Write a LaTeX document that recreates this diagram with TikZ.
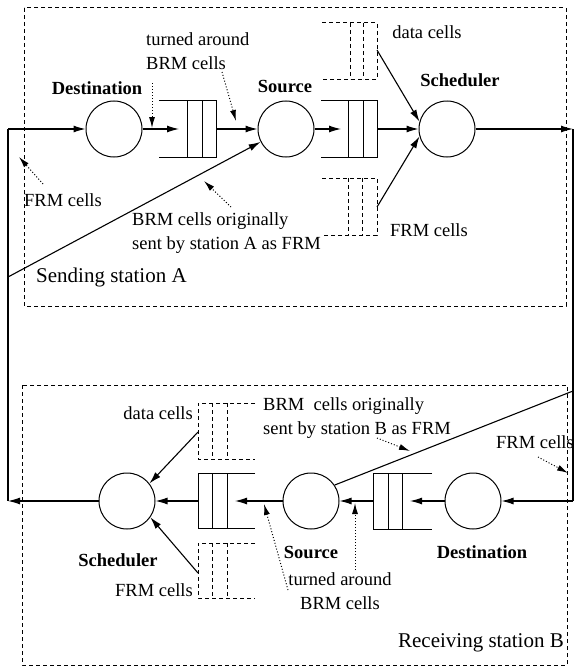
\documentclass[tikz,border=0pt]{standalone}
\usepackage{fontspec}
\setmainfont{Liberation Serif}
\usetikzlibrary{arrows.meta}
\begin{document}
\begin{tikzpicture}[x=1pt,y=-1pt,
  wire/.style={line width=1.1pt},
  arr/.style={wire,-{Latex[length=12pt,width=7pt]}},
  dotarr/.style={line width=1pt,dotted,-{Latex[length=11pt,width=6pt]}},
  boxline/.style={line width=1pt,dash pattern=on 4pt off 3pt},
  qline/.style={line width=1pt},
  dqline/.style={line width=1pt,dash pattern=on 4pt off 3pt},
  srv/.style={circle,draw,line width=1pt,minimum size=56pt,inner sep=0pt},
  lbl/.style={inner sep=0pt,font=\fontsize{18.5}{24}\selectfont},
  blbl/.style={inner sep=0pt,font=\fontsize{18.5}{24}\selectfont\bfseries},
  big/.style={inner sep=0pt,font=\fontsize{21}{24}\selectfont}]
\useasboundingbox (0,0) rectangle (574,669);

% station boxes
\draw[boxline] (24,8) rectangle (566,306);
\draw[boxline] (22,385) rectangle (567,665);

% ---------------- Sending station A ----------------
\node[srv] (dA) at (114,129) {};
\node[srv] (sA) at (286,129) {};
\node[srv] (schA) at (447,129) {};
\node[blbl] (ldA) at (97,88) {Destination};
\node[blbl] (lsA) at (285,86) {Source};
\node[blbl] (lschA) at (460,80) {Scheduler};

% queue A1
\draw[qline] (159,100) -- (216,100) -- (216,157) -- (159,157);
\draw[qline] (187,100) -- (187,157) (202,100) -- (202,157);
\coordinate (qA1in) at (179,129);
\coordinate (qA1out) at (216,129);
% queue A2
\draw[qline] (321,100) -- (377,100) -- (377,157) -- (321,157);
\draw[qline] (348,100) -- (348,157) (363,100) -- (363,157);
\coordinate (qA2in) at (341,129);
\coordinate (qA2out) at (377,129);
% data cells queue A
\draw[dqline] (322,23) -- (377,23) -- (377,79) -- (322,79);
\draw[dqline] (350,23) -- (350,79) (363,23) -- (363,79);
\coordinate (dqA) at (377,50);
% FRM cells queue A
\draw[dqline] (322,178) -- (377,178) -- (377,235) -- (322,235);
\draw[dqline] (348,178) -- (348,235) (362,178) -- (362,235);
\coordinate (fqA) at (377,207);

\node[lbl] (ldataA) at (427,32) {data cells};
\node[lbl] (lfrmA2) at (429,230) {FRM cells};
\node[lbl,align=left,anchor=west] (lturnA) at (146,51) {turned around\\BRM cells};
\node[lbl] (lfrmA) at (63,200) {FRM cells};
\node[lbl,align=left,anchor=west] (lbrmA) at (132,233) {BRM cells originally\\sent by station A as FRM};
\node[big,anchor=west] (lstA) at (36,277) {Sending station A};

% connectors A
\coordinate (lA) at (8,129);
\coordinate (lB) at (8,501);
\coordinate (rA) at (573,129);
\coordinate (rB) at (573,501);
\coordinate (dgA) at (8,277);
\draw[wire] (lA) -- (lB);
\draw[arr] (lA) -- (dA.west);
\draw[arr] (dA.east) -- (qA1in);
\draw[arr] (qA1out) -- (sA.west);
\draw[arr] (sA.east) -- (qA2in);
\draw[arr] (qA2out) -- (schA.west);
\draw[arr] (dqA) -- (schA.165);
\draw[arr] (fqA) -- (schA.195);
\draw[arr] (schA.east) -- (rA);
\draw[arr] (dgA) -- (sA.207);

% dotted pointers A
\coordinate (pA1s) at (152,83);  \coordinate (pA1e) at (152,128);
\coordinate (pA2s) at (222,72);  \coordinate (pA2e) at (236,121);
\coordinate (pA3s) at (43,184);  \coordinate (pA3e) at (19,157);
\coordinate (pA4s) at (231,207); \coordinate (pA4e) at (204,181);
\draw[dotarr] (pA1s) -- (pA1e);
\draw[dotarr] (pA2s) -- (pA2e);
\draw[dotarr] (pA3s) -- (pA3e);
\draw[dotarr] (pA4s) -- (pA4e);

% ---------------- Receiving station B ----------------
\node[srv] (schB) at (127,501) {};
\node[srv] (sB) at (311,501) {};
\node[srv] (dB) at (473,501) {};
\node[blbl] (lschB) at (118,560) {Scheduler};
\node[blbl] (lsB) at (311,552) {Source};
\node[blbl] (ldB) at (482,552) {Destination};

% queue B1
\draw[qline] (255,473) -- (198,473) -- (198,528) -- (255,528);
\draw[qline] (212,473) -- (212,528) (227,473) -- (227,528);
\coordinate (qB1in) at (235,501);
\coordinate (qB1out) at (198,501);
% queue B2
\draw[qline] (432,473) -- (373,473) -- (373,529) -- (432,529);
\draw[qline] (388,473) -- (388,529) (402,473) -- (402,529);
\coordinate (qB2in) at (410,501);
\coordinate (qB2out) at (373,501);
% data cells queue B
\draw[dqline] (255,403) -- (198,403) -- (198,459) -- (255,459);
\draw[dqline] (212,403) -- (212,459) (227,403) -- (227,459);
\coordinate (dqB) at (198,432);
% FRM cells queue B
\draw[dqline] (255,543) -- (198,543) -- (198,598) -- (255,598);
\draw[dqline] (212,543) -- (212,598) (227,543) -- (227,598);
\coordinate (fqB) at (198,573);

\node[lbl,anchor=east] (ldataB) at (193,413) {data cells};
\node[lbl,anchor=east] (lfrmB2) at (193,590) {FRM cells};
\node[lbl,align=left,anchor=west] (lbrmB) at (263,418) {BRM\ \ cells originally\\sent by station B as FRM};
\node[lbl] (lfrmB) at (535,442) {FRM cells};
\node[lbl,align=center] (lturnB) at (340,591) {turned around\\BRM cells};
\node[big,anchor=east] (lstB) at (564,643) {Receiving station B};

% connectors B
\coordinate (dgB) at (573,391);
\draw[wire] (rA) -- (rB);
\draw[arr] (rB) -- (dB.east);
\draw[arr] (dB.west) -- (qB2in);
\draw[arr] (qB2out) -- (sB.east);
\draw[arr] (sB.west) -- (qB1in);
\draw[arr] (qB1out) -- (schB.east);
\draw[arr] (dqB) -- (schB.38);
\draw[arr] (fqB) -- (schB.-35);
\draw[arr] (schB.west) -- (lB);
\draw[wire] (dgB) -- (sB.34);

% dotted pointers B
\coordinate (pB1s) at (377,438); \coordinate (pB1e) at (410,451);
\coordinate (pB2s) at (538,457); \coordinate (pB2e) at (568,473);
\coordinate (pB3s) at (355,570); \coordinate (pB3e) at (355,503);
\coordinate (pB4s) at (288,590); \coordinate (pB4e) at (264,504);
\draw[dotarr] (pB1s) -- (pB1e);
\draw[dotarr] (pB2s) -- (pB2e);
\draw[dotarr] (pB3s) -- (pB3e);
\draw[dotarr] (pB4s) -- (pB4e);
\end{tikzpicture}
\end{document}
